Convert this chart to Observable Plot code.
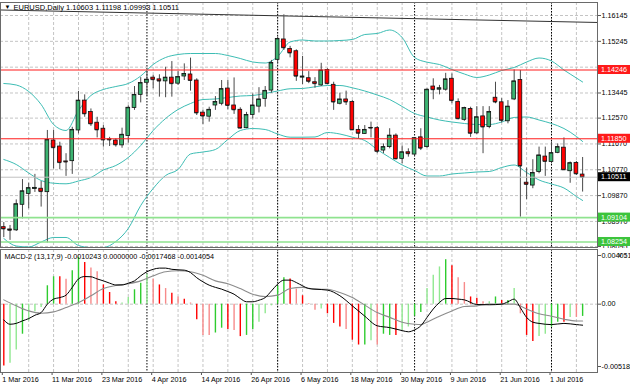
<!DOCTYPE html>
<html><head><meta charset="utf-8">
<script src="https://cdn.jsdelivr.net/npm/d3@7"></script>
<script src="https://cdn.jsdelivr.net/npm/@observablehq/plot@0.6"></script>
<style>
html,body{margin:0;padding:0;background:#fff;}
#wrap{position:relative;width:630px;height:388px;overflow:hidden;background:#fff;}
#wrap svg{position:absolute;left:0;}
</style></head><body><div id="wrap"></div>
<script>
// ---------- DATA ----------
const symbolTitle = "EURUSD,Daily";
const opens  = [1.0877,1.0869,1.0866,1.0955,1.0993,1.1010,1.1011,1.0999,1.1179,1.1158,1.1106,1.1107,1.1214,1.1318,1.1278,1.1241,1.1220,1.1183,1.1179,1.1162,1.1195,1.1292,1.1338,1.1380,1.1398,1.1392,1.1385,1.1398,1.1377,1.1402,1.1409,1.1388,1.1276,1.1262,1.1301,1.1307,1.1360,1.1301,1.1286,1.1222,1.1268,1.1297,1.1324,1.1353,1.1460,1.1531,1.1498,1.1490,1.1398,1.1396,1.1382,1.1371,1.1425,1.1373,1.1307,1.1322,1.1313,1.1216,1.1202,1.1223,1.1222,1.1144,1.1156,1.1196,1.1115,1.1138,1.1130,1.1190,1.1156,1.1367,1.1356,1.1356,1.1394,1.1313,1.1251,1.1289,1.1204,1.1263,1.1226,1.1328,1.1312,1.1246,1.1322,1.1390,1.1032,1.1022,1.1069,1.1123,1.1104,1.1136,1.1154,1.1072,1.1101,1.10603];
const highs  = [1.0893,1.0883,1.0972,1.1043,1.1030,1.1061,1.1036,1.1214,1.1214,1.1173,1.1133,1.1225,1.1350,1.1338,1.1289,1.1260,1.1231,1.1190,1.1185,1.1222,1.1300,1.1367,1.1398,1.1419,1.1406,1.1408,1.1434,1.1454,1.1420,1.1446,1.1466,1.1394,1.1284,1.1295,1.1332,1.1388,1.1388,1.1397,1.1293,1.1277,1.1341,1.1363,1.1367,1.1458,1.1539,1.1617,1.1507,1.1495,1.1472,1.1419,1.1398,1.1448,1.1429,1.1382,1.1344,1.1351,1.1318,1.1231,1.1231,1.1243,1.1228,1.1167,1.1220,1.1202,1.1160,1.1150,1.1188,1.1220,1.1359,1.1394,1.1371,1.1413,1.1411,1.1324,1.1295,1.1295,1.1297,1.1297,1.1297,1.1382,1.1325,1.1318,1.1425,1.1423,1.1083,1.1112,1.1156,1.1156,1.1173,1.1167,1.1188,1.1104,1.1106,1.11198];
const lows   = [1.0841,1.0831,1.0862,1.0906,1.0941,1.0998,1.0947,1.0822,1.1080,1.1077,1.1054,1.1061,1.1202,1.1260,1.1228,1.1188,1.1156,1.1158,1.1156,1.1152,1.1170,1.1284,1.1310,1.1333,1.1359,1.1330,1.1328,1.1330,1.1371,1.1388,1.1351,1.1266,1.1235,1.1243,1.1284,1.1300,1.1286,1.1270,1.1220,1.1220,1.1254,1.1275,1.1295,1.1344,1.1448,1.1493,1.1467,1.1385,1.1374,1.1377,1.1361,1.1367,1.1374,1.1284,1.1303,1.1301,1.1214,1.1185,1.1200,1.1188,1.1133,1.1133,1.1150,1.1112,1.1098,1.1121,1.1125,1.1144,1.1152,1.1321,1.1338,1.1351,1.1307,1.1251,1.1246,1.1190,1.1200,1.1133,1.1220,1.1307,1.1240,1.1237,1.1318,1.0912,1.0973,1.1011,1.1063,1.1054,1.1098,1.1133,1.1074,1.1030,1.1057,1.09993];
const closes = [1.0871,1.0866,1.0957,1.1002,1.1013,1.1014,1.1001,1.1181,1.1154,1.1102,1.1104,1.1216,1.1318,1.1272,1.1237,1.1216,1.1181,1.1181,1.1164,1.1199,1.1293,1.1338,1.1379,1.1391,1.1391,1.1386,1.1398,1.1377,1.1400,1.1411,1.1388,1.1275,1.1264,1.1286,1.1313,1.1358,1.1301,1.1286,1.1222,1.1268,1.1301,1.1322,1.1352,1.1449,1.1533,1.1502,1.1484,1.1403,1.1402,1.1385,1.1377,1.1423,1.1377,1.1313,1.1322,1.1313,1.1216,1.1204,1.1216,1.1222,1.1141,1.1156,1.1196,1.1115,1.1138,1.1133,1.1187,1.1152,1.1356,1.1356,1.1361,1.1392,1.1318,1.1255,1.1292,1.1204,1.1260,1.1226,1.1278,1.1313,1.1249,1.1297,1.1385,1.1090,1.1026,1.1066,1.1127,1.1106,1.1135,1.1156,1.1077,1.1100,1.1063,1.10511];

// Bollinger bands, read at these bar indices
const bandBars   = [0,2,4,6,8,10,12,14,16,18,20,22,24,26,28,30,32,34,36,38,40,42,44,46,48,50,52,54,56,58,60,62,64,66,68,70,72,74,76,78,80,82,84,86,88,90,92,93];
const bandUpper  = [1.13776,1.13724,1.13497,1.13044,1.12347,1.12138,1.12835,1.13358,1.13567,1.13671,1.13776,1.14037,1.14438,1.14682,1.14786,1.14821,1.14821,1.14821,1.14751,1.14647,1.14525,1.14490,1.14717,1.15222,1.15291,1.15257,1.15257,1.15274,1.15309,1.15483,1.15518,1.15640,1.15379,1.14682,1.14518,1.14438,1.14264,1.14107,1.13985,1.14072,1.14229,1.14333,1.14525,1.14664,1.14560,1.14246,1.13968,1.13828];
const bandMiddle = [1.11128,1.10954,1.10658,1.10396,1.10302,1.10281,1.10379,1.10501,1.10762,1.10919,1.11198,1.11616,1.12138,1.12557,1.12870,1.13079,1.13218,1.13236,1.13288,1.13340,1.13358,1.13428,1.13515,1.13592,1.13602,1.13661,1.13706,1.13706,1.13626,1.13515,1.13375,1.13218,1.12975,1.12731,1.12609,1.12504,1.12435,1.12382,1.12347,1.12347,1.12435,1.12592,1.12609,1.12504,1.12382,1.12208,1.11930,1.11755];
const bandLower  = [1.08376,1.08114,1.08080,1.08254,1.08411,1.08411,1.08132,1.08062,1.08062,1.08271,1.08724,1.09525,1.10118,1.10571,1.10780,1.11320,1.11389,1.11476,1.11825,1.12138,1.12208,1.12173,1.12016,1.11905,1.11905,1.11912,1.12069,1.12016,1.11905,1.11790,1.11476,1.11198,1.10936,1.10745,1.10553,1.10553,1.10623,1.10658,1.10693,1.10710,1.10849,1.10936,1.10675,1.10414,1.10275,1.10135,1.09839,1.09700];

// drawn trend line (two anchor points)
const trendBars   = [-0.53, 95.39];
const trendPrices = [1.16337, 1.15902];

// horizontal levels
const levelValues = [1.14246, 1.11850, 1.10511, 1.09104, 1.08254];
const levelKinds  = ["red", "red", "bid", "green", "green"];

// price axis grid and the tick labels that are visible
const priceTicks = [1.16145, 1.15245, 1.14345, 1.13445, 1.12570, 1.11670, 1.10770, 1.09870, 1.08970, 1.08095];
const priceTickLabelsShown = [1.16145, 1.15245, 1.13445, 1.12570, 1.11670, 1.10770, 1.09870, 1.08970, 1.08095];

// time axis
const dateTickBars   = [0, 8, 16, 24, 32, 40, 48, 56, 64, 72, 80, 88];
const dateTickLabels = ["1 Mar 2016","11 Mar 2016","23 Mar 2016","4 Apr 2016","14 Apr 2016","26 Apr 2016","6 May 2016","18 May 2016","30 May 2016","9 Jun 2016","21 Jun 2016","1 Jul 2016"];
const monthStartBars = [23, 44, 66, 88];
const gridBars = [4,8,12,16,20,24,28,32,36,40,44,48,52,56,60,64,68,72,76,80,84,88,92];

// MACD-2 panel
const macdLabel = "MACD-2 (13,17,9) -0.0010243 0.0000000 -0.0017468 -0.0014054";
const histValues = [-0.00514,-0.00492,-0.00381,-0.0025,-0.0014,-0.00064,-0.00028,0.00153,0.00228,0.00228,0.00208,0.00278,0.00389,0.00347,0.0030,0.0027,0.0016,0.00097,0.0002,0.0001,0.00055,0.0012,0.00175,0.0025,0.0021,0.0016,0.0013,0.0009,0.0006,0.0004,0.0001,-0.0013,-0.0026,-0.0026,-0.0024,-0.0020,-0.0021,-0.0022,-0.0027,-0.0026,-0.0021,-0.0015,-0.0008,-0.00014,0.0015,0.0022,0.0021,0.00125,0.0007,0.00005,-0.0005,-0.0004,-0.0008,-0.0016,-0.0019,-0.0021,-0.0030,-0.0034,-0.0034,-0.00305,-0.0034,-0.0025,-0.0026,-0.0026,-0.0022,-0.0019,-0.0010,-0.0007,0.0013,0.0024,0.0031,0.0037,0.0032,0.0022,0.0018,0.0006,0.0005,0.0002,0.0002,0.0006,0.0003,0.0003,0.0013,-0.0008,-0.0026,-0.0031,-0.0027,-0.0025,-0.0019,-0.0015,-0.0015,-0.0011,-0.0011,-0.00102];
const histKinds  = ["R","g","g","G","g","g","g","G","G","R","r","G","G","R","r","r","R","R","R","g","g","G","G","g","r","R","r","R","r","R","r","R","r","r","G","G","R","r","R","G","G","g","g","g","G","G","R","r","R","r","r","g","R","R","R","r","R","R","G","g","r","G","G","R","g","g","G","G","g","g","g","G","R","r","r","R","R","r","g","G","R","G","g","r","R","R","g","g","G","G","R","g","r","G"];
const macdBars   = [0,1,2,3,4,5,6,7,8,9,10,11,12,13,14,15,16,17,18,19,20,21,22,23,24,25,26,27,28,29,30,31,32,33,34,35,36,37,38,39,40,41,42,43,44,45,46,47,48,49,50,52,54,56,58,60,62,64,65,66,67,68,69,70,71,72,73,74,76,78,80,81,82,83,84,85,86,88,90,92,93];
const macdValues = [-0.00131,-0.00167,-0.0016,-0.00139,-0.0012,-0.00092,-0.0007,0.0,0.00042,0.00055,0.00075,0.0014,0.0021,0.0023,0.00228,0.0021,0.00194,0.00175,0.0016,0.0016,0.00175,0.00194,0.00236,0.0027,0.0029,0.003,0.003,0.0029,0.00286,0.00283,0.00263,0.0022,0.00186,0.00158,0.0014,0.00125,0.00105,0.00083,0.00047,0.0002,0.0002,0.00033,0.00055,0.0011,0.00167,0.002,0.002,0.0018,0.00153,0.0013,0.00125,0.00117,0.0007,-0.00014,-0.001,-0.0018,-0.00195,-0.0022,-0.0023,-0.00214,-0.0018,-0.0011,-0.0004,0.00014,0.00047,0.00047,0.00042,0.00036,-0.00003,-0.00005,0.0,0.0002,0.00042,-0.0003,-0.0011,-0.0015,-0.0016,-0.0017,-0.0016,-0.0017,-0.00175];
const signalBars   = [0,2,4,6,8,10,12,14,16,18,20,22,24,26,28,30,32,34,36,38,40,42,44,46,48,50,52,54,56,58,60,62,64,66,67,68,70,72,74,76,78,80,82,84,86,88,90,92,93];
const signalValues = [0.00036,-0.00014,-0.00056,-0.00075,-0.00064,-0.00028,0.00014,0.0007,0.0013,0.00155,0.0017,0.00194,0.00236,0.0027,0.00278,0.0027,0.0024,0.00194,0.0017,0.0013,0.00083,0.00063,0.00075,0.0013,0.0014,0.00125,0.00124,0.00097,0.00055,-0.00008,-0.0007,-0.0011,-0.0015,-0.00167,-0.0017,-0.0015,-0.001,-0.00056,-0.0002,-0.00014,0.0,0.0,0.0,-0.0004,-0.0008,-0.001,-0.00125,-0.0014,-0.0014];
const macdTicks = [0.004051, 0, -0.005188];
const macdTickLabels = ["0.004051", "0.00", "-0.005188"];

// ---------- STYLE ----------
const FONT = "'Liberation Sans', Arial, sans-serif";
const FS = "7.2px";
const xDomain = [-0.53, 95.39];
const UP = "#3cb371", DOWN = "#ff0000";
const BAND = "#3dbdb4";
const GRID = "#c4c4c4";
const levelLine = {red: "#ff1a1a", bid: "#c0c0c0", green: "#8fe38f"};
const levelBox  = {red: "#ff1a1a", bid: "#000000", green: "#3cc43c"};
const histColor = {G: "#2ecc2e", g: "#90e890", R: "#ff0000", r: "#f78a8a"};

const candles = opens.map((o, i) => ({i, o, h: highs[i], l: lows[i], c: closes[i]}));
const bands = bandBars.map((b, i) => ({b, u: bandUpper[i], m: bandMiddle[i], l: bandLower[i]}));
const levels = levelValues.map((v, i) => ({v, k: levelKinds[i]}));
const last = candles[candles.length - 1];
const titleText = `${symbolTitle} ${last.o.toFixed(5)} ${last.h.toFixed(5)} ${last.l.toFixed(5)} ${last.c.toFixed(5)}`;

const wrap = document.getElementById("wrap");

// ---------- MAIN PANEL ----------
const main = Plot.plot({
  width: 630, height: 248,
  marginTop: 2, marginBottom: 1, marginLeft: 0, marginRight: 33,
  style: {fontFamily: FONT, fontSize: FS, background: "#fff", color: "#000"},
  x: {domain: xDomain, axis: null},
  y: {domain: [1.08062, 1.16598], axis: null},
  marks: [
    Plot.ruleX(gridBars, {stroke: GRID, strokeDasharray: "3,2"}),
    Plot.ruleY(priceTicks, {stroke: GRID, strokeDasharray: "3,2"}),
    Plot.ruleX(monthStartBars, {stroke: "#000", strokeDasharray: "1.5,1.5"}),
    Plot.line(bands, {x: "b", y: "u", stroke: BAND, strokeWidth: 1, curve: "monotone-x"}),
    Plot.line(bands, {x: "b", y: "m", stroke: BAND, strokeWidth: 1, curve: "monotone-x"}),
    Plot.line(bands, {x: "b", y: "l", stroke: BAND, strokeWidth: 1, curve: "monotone-x"}),
    Plot.line(trendBars.map((b, i) => ({b, p: trendPrices[i]})), {x: "b", y: "p", stroke: "#333", strokeWidth: 1}),
    Plot.ruleX(candles, {x: "i", y1: "l", y2: "h", stroke: "#4a4a4a", strokeWidth: 1}),
    Plot.rect(candles, {x1: d => d.i - 0.3, x2: d => d.i + 0.3, y1: "o", y2: "c",
      fill: d => d.c >= d.o ? UP : DOWN, stroke: "#111", strokeWidth: 0.8}),
    Plot.ruleY(candles, {x1: d => d.i - 0.3, x2: d => d.i + 0.3, y: "c", stroke: "#111", strokeWidth: 0.8}),
    Plot.ruleY(levels, {y: "v", stroke: d => levelLine[d.k], strokeWidth: d => d.k === "green" ? 1.6 : 1}),
    Plot.axisY(priceTicks, {anchor: "right", tickSize: 3, tickPadding: 1, text: null, stroke: "#555"}),
    Plot.axisY(priceTickLabelsShown, {anchor: "right", tickSize: 0, tickPadding: 4, tickFormat: d => d.toFixed(5),
      fontSize: FS, fill: "#000"}),
    Plot.frame({stroke: "#6a6a6a"}),
    Plot.text(["\u25BC"], {frameAnchor: "top-left", dx: 4, dy: 2.5, lineAnchor: "top", textAnchor: "start", fontSize: "6px", fill: "#000"}),
    Plot.text([titleText], {frameAnchor: "top-left", dx: 13, dy: 2.2, lineAnchor: "top", textAnchor: "start", fontSize: "7.5px", fill: "#000"})
  ]
});
main.style.top = "0px";
wrap.appendChild(main);

// price label boxes on the right scale
{
  const ys = main.scale("y");
  const g = d3.select(main).append("g")
    .attr("font-family", FONT).attr("font-size", FS).attr("text-anchor", "start");
  levels.forEach(d => {
    const y = ys.apply(d.v);
    g.append("rect").attr("x", 598).attr("y", y - 4.5).attr("width", 34).attr("height", 9).attr("fill", levelBox[d.k]);
    g.append("text").attr("x", 601).attr("y", y).attr("dy", "0.34em").attr("fill", "#fff").text(d.v.toFixed(5));
  });
}

// ---------- MACD PANEL ----------
const hist = histValues.map((v, i) => ({i, v, k: histKinds[i]}));
const macdLine = macdBars.map((b, i) => ({b, v: macdValues[i]}));
const sigLine = signalBars.map((b, i) => ({b, v: signalValues[i]}));

const macd = Plot.plot({
  width: 630, height: 140,
  marginTop: 1, marginBottom: 16, marginLeft: 0, marginRight: 33,
  style: {fontFamily: FONT, fontSize: FS, background: "#fff", color: "#000"},
  x: {domain: xDomain, axis: null},
  y: {domain: [-0.005687, 0.00455], axis: null},
  marks: [
    Plot.ruleX(gridBars, {stroke: GRID, strokeDasharray: "3,2"}),
    Plot.ruleY([0], {stroke: GRID, strokeDasharray: "3,2"}),
    Plot.ruleX(monthStartBars, {stroke: "#000", strokeDasharray: "1.5,1.5"}),
    Plot.ruleX(hist, {x: "i", y1: 0, y2: "v", stroke: d => histColor[d.k], strokeWidth: 1.4}),
    Plot.line(sigLine, {x: "b", y: "v", stroke: "#8c8c8c", strokeWidth: 1.1, curve: "monotone-x"}),
    Plot.line(macdLine, {x: "b", y: "v", stroke: "#000", strokeWidth: 1, curve: "monotone-x"}),
    Plot.axisY(macdTicks, {anchor: "right", tickSize: 3, tickPadding: 1,
      tickFormat: d => macdTickLabels[macdTicks.indexOf(d)], fontSize: FS, stroke: "#555", fill: "#000"}),
    Plot.axisX(dateTickBars, {anchor: "bottom", tickSize: 3, tickPadding: 1,
      tickFormat: d => dateTickLabels[dateTickBars.indexOf(d)], textAnchor: "start", dx: -1.5,
      fontSize: FS, stroke: "#555", fill: "#000"}),
    Plot.frame({stroke: "#6a6a6a"}),
    Plot.text([macdLabel], {frameAnchor: "top-left", dx: 4, dy: 4, lineAnchor: "top", textAnchor: "start", fill: "#000"})
  ]
});
macd.style.top = "248px";
wrap.appendChild(macd);
</script>
</body></html>
